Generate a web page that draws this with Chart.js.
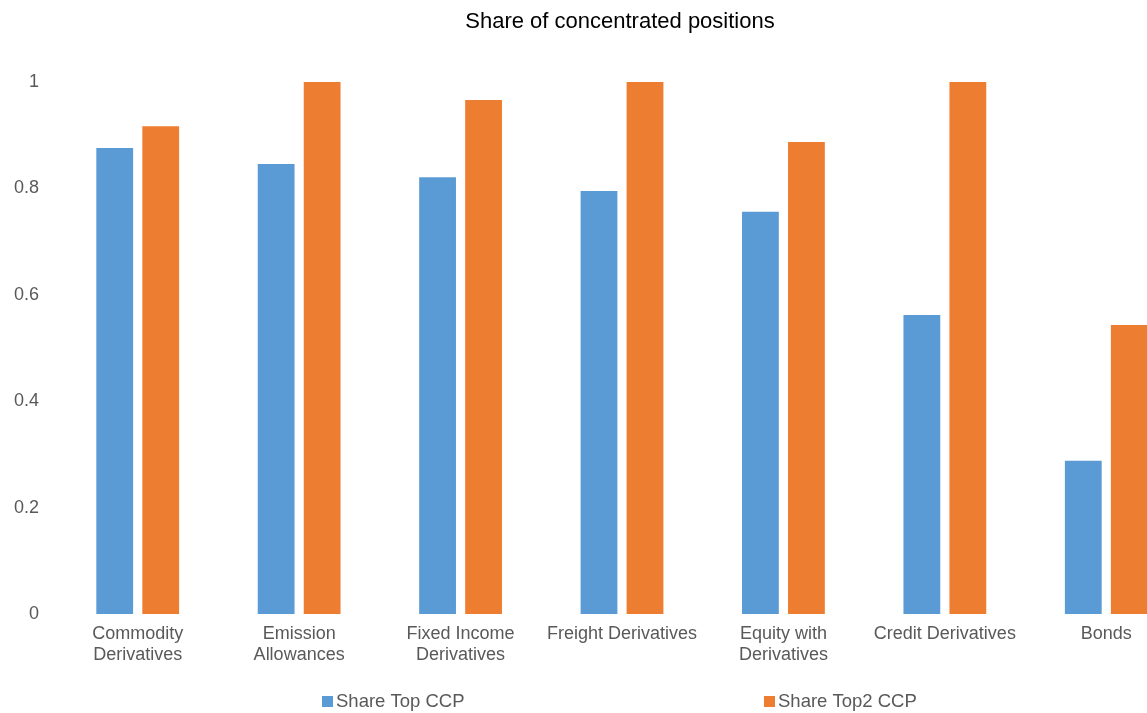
<!DOCTYPE html>
<html>
<head>
<meta charset="utf-8">
<script src="https://cdn.jsdelivr.net/npm/chart.js@4"></script>
<style>
  html, body { margin: 0; padding: 0; overflow: hidden; background: #fff; }
  #wrap { width: 1240px; height: 713px; }
</style>
</head>
<body>
<div id="wrap"><canvas id="chart" width="1240" height="713"></canvas></div>
<script>
// data
var categories = [
  ["Commodity", "Derivatives"],
  ["Emission", "Allowances"],
  ["Fixed Income", "Derivatives"],
  "Freight Derivatives",
  ["Equity with", "Derivatives"],
  "Credit Derivatives",
  "Bonds"
];
var shareTop = [0.876, 0.846, 0.821, 0.795, 0.756, 0.562, 0.288];
var shareTop2 = [0.917, 1, 0.966, 1, 0.887, 1, 0.543];
var yTicks = [0, 0.2, 0.4, 0.6, 0.8, 1];

var textGrey = "#595959";
var fontFamily = "'Liberation Sans', Arial, sans-serif";

// legend spread out like the Excel one
var bottomLegend = {
  id: "bottomLegend",
  afterDraw: function (chart) {
    var ctx = chart.ctx;
    var xs = [322, 764];
    ctx.save();
    ctx.font = "18.5px " + fontFamily;
    ctx.textBaseline = "middle";
    chart.data.datasets.forEach(function (ds, i) {
      ctx.fillStyle = ds.backgroundColor;
      ctx.fillRect(xs[i], 696, 11, 11);
      ctx.fillStyle = textGrey;
      ctx.fillText(ds.label, xs[i] + 14, 702);
    });
    ctx.restore();
  }
};

const chart = document.getElementById("chart").getContext("2d");
new Chart(chart, {
  type: "bar",
  data: {
    labels: categories,
    datasets: [{
      label: "Share Top CCP",
      data: shareTop,
      backgroundColor: "#5B9BD5",
      categoryPercentage: 0.57,
      barPercentage: 0.8
    }, {
      label: "Share Top2 CCP",
      data: shareTop2,
      backgroundColor: "#ED7D31",
      categoryPercentage: 0.57,
      barPercentage: 0.8
    }]
  },
  options: {
    responsive: false,
    animation: false,
    layout: { padding: 0 },
    plugins: {
      legend: { display: false },
      tooltip: { enabled: false },
      title: {
        display: true,
        text: "Share of concentrated positions",
        color: "#000",
        font: { family: fontFamily, size: 22, weight: "normal" },
        padding: { top: 9, bottom: 46.6 }
      }
    },
    scales: {
      x: {
        grid: { display: false },
        border: { display: false },
        ticks: {
          color: textGrey,
          font: { family: fontFamily, size: 18 },
          maxRotation: 0,
          autoSkip: false,
          padding: 1
        },
        afterFit: function (scale) { scale.height = 99; }
      },
      y: {
        min: 0,
        max: 1,
        grid: { display: false, drawTicks: false },
        border: { display: false },
        afterBuildTicks: function (scale) {
          scale.ticks = yTicks.map(function (v) { return { value: v }; });
        },
        ticks: {
          color: textGrey,
          font: { family: fontFamily, size: 18 },
          padding: 18,
          callback: function (v) { return String(v); }
        },
        afterFit: function (scale) { scale.width = 57; }
      },
      // empty right-hand strip: the plot runs past the photographed edge
      spacer: {
        type: "linear",
        position: "right",
        grid: { display: false },
        border: { display: false },
        ticks: { display: false },
        afterFit: function (scale) { scale.width = 53; }
      }
    }
  },
  plugins: [bottomLegend]
});
</script>
</body>
</html>
